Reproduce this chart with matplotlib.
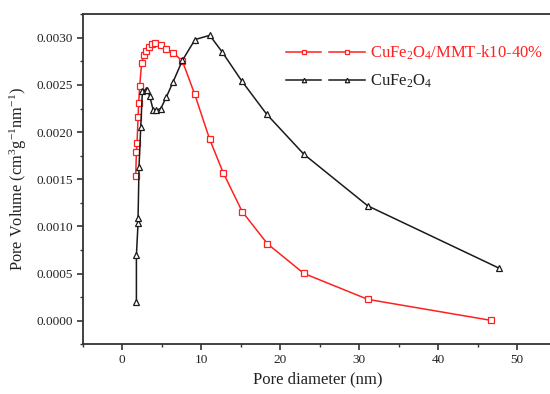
import numpy as np
import matplotlib
matplotlib.use("Agg")
import matplotlib.pyplot as plt
from matplotlib.lines import Line2D
from matplotlib.legend_handler import HandlerBase
from matplotlib.ticker import MultipleLocator

# --- data ---
d_comp = [1.73, 1.82, 1.90, 2.03, 2.11, 2.24, 2.49, 2.78, 3.09, 3.38, 3.80, 4.23,
          4.90, 5.53, 6.46, 7.65, 9.20, 11.1, 12.8, 15.2, 18.4, 23.0, 31.1, 46.7]
v_comp = [0.001533, 0.001787, 0.001886, 0.002155, 0.002309, 0.002494, 0.002737,
          0.002822, 0.002860, 0.002903, 0.002938, 0.002949, 0.002928, 0.002881,
          0.002843, 0.002751, 0.002401, 0.001922, 0.001570, 0.001158, 0.000816,
          0.000502, 0.000227, 0.000004]

d_fe = [1.82, 1.82, 2.03, 2.03, 2.15, 2.37, 2.58, 3.00, 3.20, 3.50, 3.93, 4.35,
        4.90, 5.62, 6.46, 7.65, 9.24, 11.1, 12.7, 15.15, 18.3, 23.0, 31.1, 47.7]
v_fe = [0.000198, 0.000693, 0.001038, 0.001091, 0.001631, 0.002055, 0.002436,
        0.002450, 0.002444, 0.002383, 0.002239, 0.002232, 0.002250, 0.002373,
        0.002532, 0.002762, 0.002981, 0.003026, 0.002846, 0.002542, 0.002190,
        0.001766, 0.001218, 0.000558]

label_comp = r"CuFe$\mathregular{_2}$O$\mathregular{_4}$/MMT-k10-40%"
label_fe = r"CuFe$\mathregular{_2}$O$\mathregular{_4}$"


class TwoSegHandler(HandlerBase):
    # Origin-style legend key: two short line pieces, each with a marker
    def create_artists(self, legend, orig, xdescent, ydescent, width, height, fontsize, trans):
        y = height / 2 - ydescent
        gap = width * 0.1
        seg = (width - gap) / 2
        arts = []
        for x0 in (-xdescent, -xdescent + seg + gap):
            ln = Line2D([x0, x0 + seg], [y, y], color=orig.get_color(), lw=orig.get_linewidth())
            mk = Line2D([x0 + seg / 2], [y], marker=orig.get_marker(), ls="none",
                        markersize=orig.get_markersize() * 0.7, mfc="white",
                        mec=orig.get_markeredgecolor(), mew=orig.get_markeredgewidth())
            for a in (ln, mk):
                a.set_transform(trans)
                arts.append(a)
        return arts


plt.rcParams["font.family"] = ["Liberation Serif", "DejaVu Serif"]
plt.rcParams["mathtext.fontset"] = "stix"

fig = plt.figure(figsize=(5.5, 3.94), dpi=100)
ax = fig.add_axes([0.150, 0.126, 0.855, 0.838])

l1, = ax.plot(d_comp, v_comp, color="#ff2020", lw=1.1, marker="s", ms=3.8,
              mfc="white", mec="#ff2020", mew=0.9, label=label_comp)
l2, = ax.plot(d_fe, v_fe, color="#1a1a1a", lw=1.1, marker="^", ms=4.6,
              mfc="white", mec="#1a1a1a", mew=0.9, label=label_fe)

ax.set_xlim(-5, 54.5)
ax.set_ylim(-0.00025, 0.00325)
ax.xaxis.set_major_locator(MultipleLocator(10))
ax.xaxis.set_minor_locator(MultipleLocator(5))
ax.yaxis.set_major_locator(MultipleLocator(0.0005))
ax.yaxis.set_minor_locator(MultipleLocator(0.00025))
ax.yaxis.set_major_formatter(matplotlib.ticker.FormatStrFormatter("%.4f"))

for s in ax.spines.values():
    s.set_linewidth(1.3)
    s.set_color("#333333")
ax.spines["right"].set_visible(False)
ax.tick_params(which="major", direction="out", length=4, width=1.2, labelsize=9.5,
               colors="#333333", labelcolor="#222222", pad=3)
ax.tick_params(which="minor", direction="out", length=2.5, width=1.0, colors="#333333")

ax.set_xlabel("Pore diameter (nm)", fontsize=12, color="#222222", labelpad=4)
ax.set_ylabel(r"Pore Volume (cm$\mathregular{^3}$g$\mathregular{^{-1}}$nm$\mathregular{^{-1}}$)",
              fontsize=11.8, color="#222222", labelpad=5)

leg = ax.legend(handles=[l1, l2], handler_map={l1: TwoSegHandler(), l2: TwoSegHandler()},
                loc="upper left", bbox_to_anchor=(285.7 / 550, 1 - 44 / 394),
                bbox_transform=fig.transFigure, frameon=False, borderpad=0,
                borderaxespad=0, fontsize=12, handlelength=4.75, handletextpad=0.3,
                labelspacing=0.6)
leg.get_texts()[0].set_color("#ff2020")
leg.get_texts()[1].set_color("#222222")

fig.savefig("out.png", dpi=100)
